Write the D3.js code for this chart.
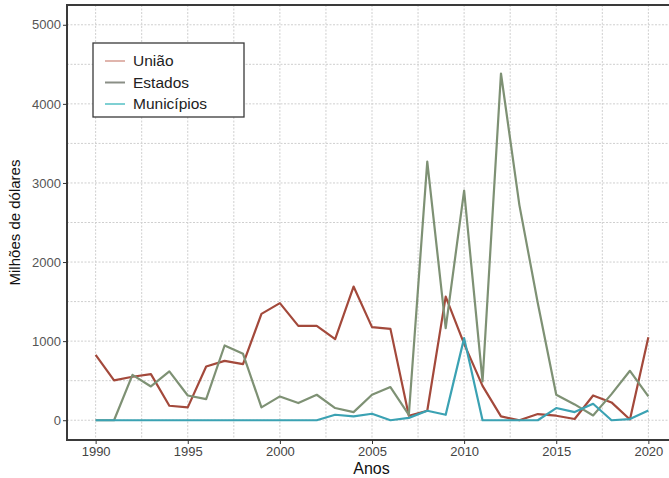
<!DOCTYPE html>
<html>
<head>
<meta charset="utf-8">
<script src="https://cdn.jsdelivr.net/npm/d3@7"></script>
<style>
  html, body { margin: 0; padding: 0; background: #fff; }
  svg { display: block; font-family: "Liberation Sans", Arial, Helvetica, sans-serif; }
</style>
</head>
<body>
<svg id="chart" width="669" height="478"></svg>
<script>
// Transferências anuais (milhões de dólares) por esfera de governo
const years = d3.range(1990, 2021);
const uniao = [827, 503, 550, 583, 183, 162, 680, 751, 709, 1345, 1480,
               1193, 1193, 1025, 1690, 1177, 1155, 57, 120, 1563, 966,
               435, 48, 0, 78, 57, 15, 313, 225, 10, 1050];
const estados = [0, 0, 574, 427, 617, 313, 267, 945, 840, 162, 301,
                 217, 322, 154, 103, 322, 419, 69, 3270, 1164, 2902,
                 490, 4384, 2720, 1480, 322, 200, 60, 330, 625, 301];
const municipios = [0, 0, 0, 0, 0, 0, 0, 0, 0, 0, 0,
                    0, 0, 69, 48, 82, 0, 30, 120, 69, 1038,
                    0, 0, 0, 0, 154, 103, 208, 0, 15, 124];
const seriesNames = ["União", "Estados", "Municípios"];
const seriesColors = ["#a3493b", "#7e9174", "#3ba2b3"];
const legendColors = ["#e0b5ad", "#8a8f86", "#7fd0d3"];
const xTicks = [1990, 1995, 2000, 2005, 2010, 2015, 2020];
const yTicks = [0, 1000, 2000, 3000, 4000, 5000];

const svg = d3.select("#chart");
const panel = { left: 67, top: 5, right: 676, bottom: 440 };

const x = d3.scaleLinear().domain([1988.5, 2021.5]).range([panel.left + 1, panel.right]);
const y = d3.scaleLinear().domain([-250, 5250]).range([panel.bottom, panel.top]);

// grade (principal e secundária)
const grid = svg.append("g").attr("stroke", "#cfcfcf").attr("stroke-width", 1)
  .attr("stroke-dasharray", "2,1.5");
const yGrid = d3.range(0, 5001, 500);
const xGrid = d3.range(1990, 2021, 2.5);
grid.selectAll("line.h").data(yGrid).join("line").attr("class", "h")
  .attr("x1", panel.left).attr("x2", panel.right)
  .attr("y1", d => y(d)).attr("y2", d => y(d));
grid.selectAll("line.v").data(xGrid).join("line").attr("class", "v")
  .attr("y1", panel.top).attr("y2", panel.bottom)
  .attr("x1", d => x(d)).attr("x2", d => x(d));

// linhas das séries
svg.append("clipPath").attr("id", "clip").append("rect")
  .attr("x", panel.left).attr("y", panel.top)
  .attr("width", panel.right - panel.left).attr("height", panel.bottom - panel.top);

const line = d3.line().x((d, i) => x(years[i])).y(d => y(d));
const allSeries = [uniao, estados, municipios];
svg.append("g").attr("clip-path", "url(#clip)")
  .selectAll("path").data(allSeries).join("path")
  .attr("d", d => line(d))
  .attr("fill", "none")
  .attr("stroke", (d, i) => seriesColors[i])
  .attr("stroke-width", 2.2)
  .attr("stroke-linejoin", "round");

// moldura do painel
svg.append("rect")
  .attr("x", panel.left).attr("y", panel.top)
  .attr("width", panel.right - panel.left).attr("height", panel.bottom - panel.top)
  .attr("fill", "none").attr("stroke", "#3a3a3a").attr("stroke-width", 2);

// eixos
const xAxis = d3.axisBottom(x).tickValues(xTicks).tickFormat(d3.format("d"))
  .tickSize(4).tickPadding(3);
const gx = svg.append("g").attr("transform", `translate(0,${panel.bottom})`).call(xAxis);
gx.select(".domain").remove();
gx.selectAll("line").attr("stroke", "#333");
gx.selectAll("text").attr("fill", "#444").attr("font-size", 13).attr("font-family", null);

const yAxis = d3.axisLeft(y).tickValues(yTicks).tickFormat(d3.format("d"))
  .tickSize(4).tickPadding(2);
const gy = svg.append("g").attr("transform", `translate(${panel.left},0)`).call(yAxis);
gy.select(".domain").remove();
gy.selectAll("line").attr("stroke", "#333");
gy.selectAll("text").attr("fill", "#555").attr("font-size", 13).attr("font-family", null);

// títulos dos eixos
svg.append("text")
  .attr("x", (panel.left + panel.right) / 2).attr("y", 474)
  .attr("text-anchor", "middle").attr("font-size", 16).attr("fill", "#111")
  .text("Anos");
svg.append("text")
  .attr("transform", `translate(20,${(panel.top + panel.bottom) / 2}) rotate(-90)`)
  .attr("text-anchor", "middle").attr("font-size", 15).attr("fill", "#111")
  .text("Milhões de dólares");

// legenda
const legend = svg.append("g").attr("transform", "translate(93,43)");
legend.append("rect").attr("width", 151).attr("height", 74)
  .attr("fill", "#fff").attr("stroke", "#3a3a3a").attr("stroke-width", 1.3);
const items = legend.selectAll("g.item").data(seriesNames).join("g")
  .attr("class", "item")
  .attr("transform", (d, i) => `translate(0,${18 + i * 21.5})`);
items.append("line").attr("x1", 12).attr("x2", 32).attr("y1", 0).attr("y2", 0)
  .attr("stroke", (d, i) => legendColors[i]).attr("stroke-width", 2);
items.append("text").attr("x", 40).attr("y", 0).attr("dy", "0.35em")
  .attr("font-size", 15.5).attr("fill", "#222").text(d => d);
</script>
</body>
</html>
